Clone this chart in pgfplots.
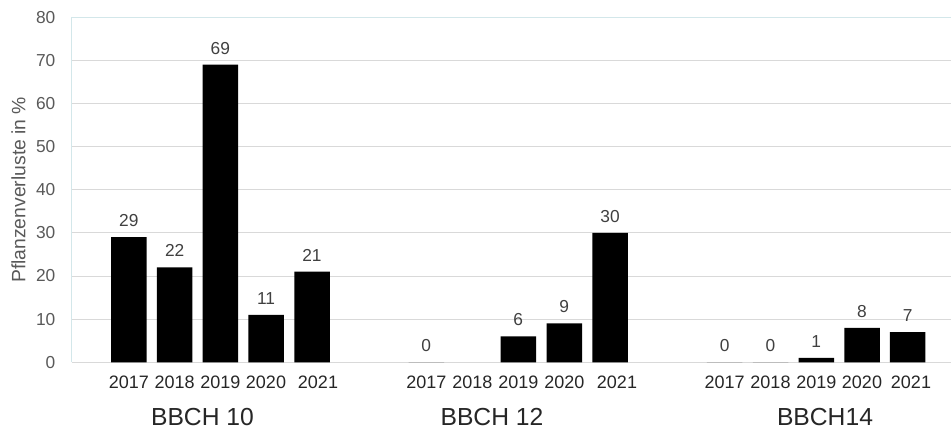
\documentclass[border=0pt]{standalone}
\usepackage{pgfplots}
\pgfplotsset{compat=1.18}
\usepackage{pgfplotstable}
\usepackage{fontspec}
\setmainfont{Liberation Sans}

\definecolor{gridgrey}{HTML}{D9D9D9}
\definecolor{frameline}{HTML}{D3E7EA}
\definecolor{ticktext}{HTML}{595959}
\definecolor{valtext}{HTML}{404040}
\definecolor{yeartext}{HTML}{262626}

% x positions in pixels of the original picture
\pgfplotstableread{
x      y
128.8  29
174.7  22
220.3  69
266.0  11
312.0  21
426.3  0
518.3  6
564.3  9
610.0  30
724.7  0
770.5  0
816.3  1
862.0  8
907.7  7
}\losses

\begin{document}
\begin{tikzpicture}
\begin{axis}[
  scale only axis,
  width=659.25pt, height=258.75pt,
  xmin=72, xmax=951,
  ymin=0, ymax=80,
  ytick={0,10,...,80},
  xtick={128.8,174.7,220.3,266,318,426.3,472.3,518.3,564.3,617,724.7,770.5,816.3,862,911},
  xticklabels={2017,2018,2019,2020,2021,2017,2018,2019,2020,2021,2017,2018,2019,2020,2021},
  major tick length=0pt,
  ymajorgrids=true,
  grid style={gridgrey, line width=0.75pt},
  axis line style={draw=none},
  clip=false,
  /pgf/number format/assume math mode=true,
  tick label style={font=\fontsize{13}{15}\selectfont},
  yticklabel style={text=ticktext, anchor=east, xshift=-9pt},
  xticklabel style={text=yeartext, anchor=base, yshift=-20pt, font=\fontsize{13.5}{15}\selectfont},
  ylabel={Pflanzenverluste in \%},
  ylabel style={at={(axis description cs:-0.0609,0.5)}, anchor=center,
    font=\fontsize{14.5}{16}\selectfont, text=ticktext},
]
\addplot[ybar, bar width=35.5, fill=black, draw=none,
  nodes near coords,
  every node near coord/.append style={anchor=base, yshift=8pt,
    font=\fontsize{13}{15}\selectfont, text=valtext},
] table[x=x, y=y] {\losses};

\draw[frameline, line width=0.75pt] (rel axis cs:0,0) -- (rel axis cs:0,1) -- (rel axis cs:1,1);

\node[anchor=center, yshift=-41pt, font=\fontsize{18.5}{21}\selectfont, text=yeartext] at (axis cs:202.5,0) {BBCH 10};
\node[anchor=center, yshift=-41pt, font=\fontsize{18.5}{21}\selectfont, text=yeartext] at (axis cs:492,0) {BBCH 12};
\node[anchor=center, yshift=-41pt, font=\fontsize{18.5}{21}\selectfont, text=yeartext] at (axis cs:825,0) {BBCH14};
\end{axis}
\pgfresetboundingbox
\path (-54pt,-52.3pt) rectangle (659.25pt,271.7pt);
\end{tikzpicture}
\end{document}
